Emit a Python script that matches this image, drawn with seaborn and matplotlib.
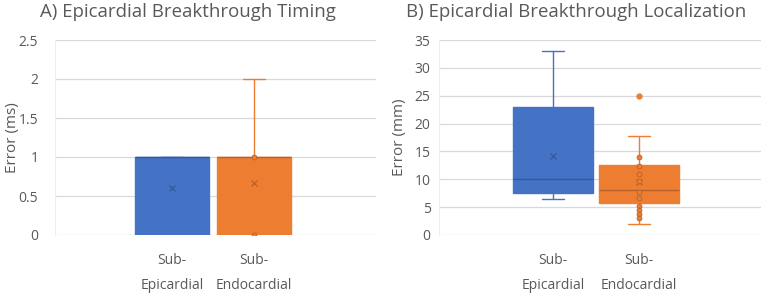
import matplotlib
matplotlib.use("Agg")
import matplotlib.pyplot as plt
import seaborn as sns
import numpy as np
import pandas as pd

# ---------------- data ----------------
categories = ["Sub-\nEpicardial", "Sub-\nEndocardial"]

# Panel A: timing error (ms)
timing_q1 = [0, 0]
timing_median = [1, 1]
timing_q3 = [1, 1]
timing_whislo = [0, 0]
timing_whishi = [1, 2]
timing_mean = [0.6, 0.67]
timing_endo_points = [0, 1]

# Panel B: localization error (mm)
loc_q1 = [7.6, 5.7]
loc_median = [10, 8]
loc_q3 = [23, 12.5]
loc_whislo = [6.4, 2.0]
loc_whishi = [33, 17.7]
loc_mean = [14.2, 9.5]
loc_endo_outliers = [25]
loc_endo_points = [14, 12.3, 11, 9.7, 7.8, 6.6, 5.2, 4.5, 3.7, 3.1]

titles = ["A) Epicardial Breakthrough Timing", "B) Epicardial Breakthrough Localization"]
ylabels = ["Error (ms)", "Error (mm)"]
yticks_a = [0, 0.5, 1, 1.5, 2, 2.5]
yticks_b = [0, 5, 10, 15, 20, 25, 30, 35]

# ---------------- style ----------------
sns.set_theme(style="white")
plt.rcParams['font.family'] = ['Open Sans', 'DejaVu Sans']
TXT = "#595959"
GRID = "#D9D9D9"
BLUE = "#4472C4"
ORANGE = "#ED7D31"
DBLUE = "#35589A"
DORANGE = "#B8612A"
colors = [BLUE, ORANGE]
dcolors = [DBLUE, DORANGE]

W, H = 768, 296
fig = plt.figure(figsize=(W / 100, H / 100), dpi=100)


def make_stats(q1, med, q3, lo, hi, mean, fliers):
    out = []
    for i in range(len(q1)):
        out.append(dict(q1=q1[i], med=med[i], q3=q3[i], whislo=lo[i], whishi=hi[i],
                        mean=mean[i], fliers=fliers[i], label=categories[i]))
    return out


def draw_panel(ax, stats, width, yticks, ylabel, title, title_x, points, xlim,
               ypad, ylab_x):
    ax.set_ylim(yticks[0], yticks[-1])
    ax.set_xlim(*xlim)
    ax.set_yticks(yticks)
    ax.set_yticklabels([f"{t:g}" for t in yticks])
    ax.yaxis.grid(True, color=GRID, linewidth=0.9)
    ax.set_axisbelow(True)
    res = ax.bxp(stats, positions=[0, 1], widths=width, patch_artist=True,
                 showmeans=True, capwidths=0.26, manage_ticks=False)
    for i in range(2):
        c, dc = colors[i], dcolors[i]
        res['boxes'][i].set(facecolor=c, edgecolor=c, linewidth=1.0)
        res['medians'][i].set(color=dc, linewidth=1.0)
        for w in res['whiskers'][2 * i:2 * i + 2]:
            w.set(color=c, linewidth=1.0)
        for cp in res['caps'][2 * i:2 * i + 2]:
            cp.set(color=c, linewidth=1.0)
        res['means'][i].set(marker='x', markeredgecolor=dc, markerfacecolor=dc,
                            markersize=5, markeredgewidth=0.9)
        res['fliers'][i].set(marker='o', markerfacecolor=c, markeredgecolor=c, markersize=3.5)
    if points:
        df = pd.DataFrame({"cat": [1] * len(points), "val": points})
        sns.stripplot(data=df, x="cat", y="val", native_scale=True, jitter=False,
                      color=ORANGE, edgecolor=DORANGE, linewidth=0.6, size=3.5, ax=ax)
        ax.set_xlim(*xlim)
    ax.set_xticks([0, 1])
    ax.set_xticklabels(categories, color=TXT, fontsize=10, linespacing=1.9)
    ax.tick_params(axis='both', length=0, colors=TXT, labelsize=10)
    ax.tick_params(axis='x', pad=13)
    ax.tick_params(axis='y', pad=ypad)
    ax.set_xlabel("")
    ax.set_ylabel(ylabel, color=TXT, fontsize=11)
    ax.yaxis.set_label_coords(ylab_x, 0.5)
    for s in ["top", "right", "bottom"]:
        ax.spines[s].set_visible(False)
    ax.spines["left"].set_color("#EEEEEE")
    ax.spines["left"].set_linewidth(0.8)
    fig.text(title_x, 1 - 12 / H, title, color=TXT, fontsize=13.4, va='center', ha='left')


axA = fig.add_axes([55 / W, 1 - 235 / H, (376 - 55) / W, (235 - 40) / H])
statsA = make_stats(timing_q1, timing_median, timing_q3, timing_whislo, timing_whishi,
                    timing_mean, [[], []])
draw_panel(axA, statsA, 0.9, yticks_a, ylabels[0], titles[0], 40 / W,
           timing_endo_points, (-1.43, 2.49), 12, -0.108)

axB = fig.add_axes([439 / W, 1 - 235 / H, (761 - 439) / W, (235 - 40) / H])
statsB = make_stats(loc_q1, loc_median, loc_q3, loc_whislo, loc_whishi,
                    loc_mean, [[], loc_endo_outliers])
draw_panel(axB, statsB, 0.93, yticks_b, ylabels[1], titles[1], 406 / W,
           loc_endo_points, (-1.33, 2.42), 6, -0.1)

fig.savefig("out.png", dpi=100)
